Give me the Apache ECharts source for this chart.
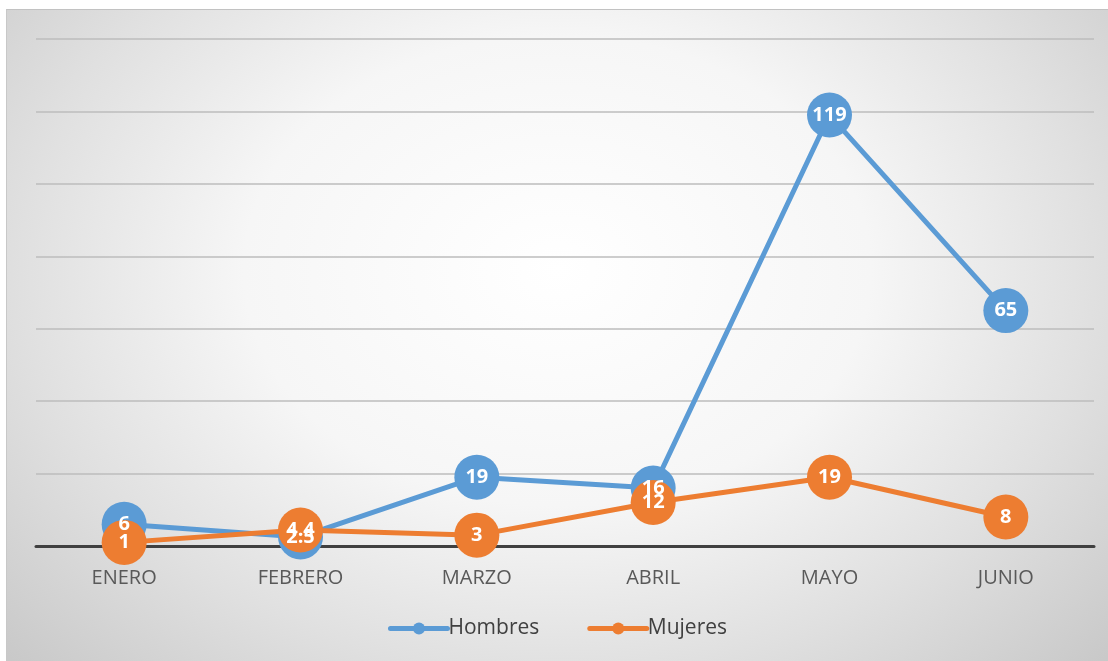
<!DOCTYPE html>
<html>
<head>
<meta charset="utf-8">
<script src="https://cdn.jsdelivr.net/npm/echarts@6/dist/echarts.min.js"></script>
<style>
html, body { margin: 0; padding: 0; background: #fff; }
#chart {
    position: absolute; left: 6px; top: 9px; width: 1101px; height: 651px;
    border-top: 1px solid #c2c2c2; border-left: 1px solid #c8c8c8;
    background: radial-gradient(ellipse 75% 95% at 50% 40%, #ffffff 0%, #f6f6f6 38%, #e0e0e0 65%, #cacaca 90%, #c2c2c2 100%);
}
</style>
</head>
<body>
<div id="chart"></div>
<script>
var meses = ["ENERO", "FEBRERO", "MARZO", "ABRIL", "MAYO", "JUNIO"];
var hombres = [6, 2.5, 19, 16, 119, 65];
var mujeres = [1, 4.4, 3, 12, 19, 8];

var myChart = echarts.init(document.getElementById("chart"));
var fuente = "'Open Sans', 'Noto Sans', sans-serif";

function serie(nombre, datos, color) {
    return {
        name: nombre,
        type: "line",
        data: datos,
        symbol: "circle",
        symbolSize: 45,
        lineStyle: { color: color, width: 5, cap: "round" },
        itemStyle: { color: color },
        label: {
            show: true,
            position: "inside",
            color: "#fff",
            fontWeight: "bold",
            fontSize: 20,
            fontFamily: fuente
        },
        emphasis: { disabled: true }
    };
}

var option = {
    animation: false,
    grid: { left: 29, right: 14, top: 29, bottom: 115 },
    legend: {
        bottom: 17,
        left: "center",
        itemWidth: 57,
        itemHeight: 15,
        itemGap: 48,
        lineStyle: { width: 5 },
        textStyle: { color: "#404040", fontSize: 21, fontFamily: fuente, padding: [0, 0, 0, -4] },
        data: ["Hombres", "Mujeres"]
    },
    xAxis: {
        type: "category",
        data: meses,
        axisTick: { show: false },
        axisLine: { lineStyle: { color: "#404040", width: 3 } },
        axisLabel: { color: "#595959", fontSize: 20, fontFamily: fuente, margin: 22 }
    },
    yAxis: {
        type: "value",
        min: 0,
        max: 140,
        interval: 20,
        axisLabel: { show: false },
        axisLine: { show: false },
        axisTick: { show: false },
        splitLine: { lineStyle: { color: "#bdbdbd", width: 1.5 } }
    },
    series: [
        serie("Hombres", hombres, "#5B9BD5"),
        serie("Mujeres", mujeres, "#ED7D31")
    ]
};
myChart.setOption(option);
window.addEventListener("resize", function () {
    myChart.resize();
});
</script>
</body>
</html>
